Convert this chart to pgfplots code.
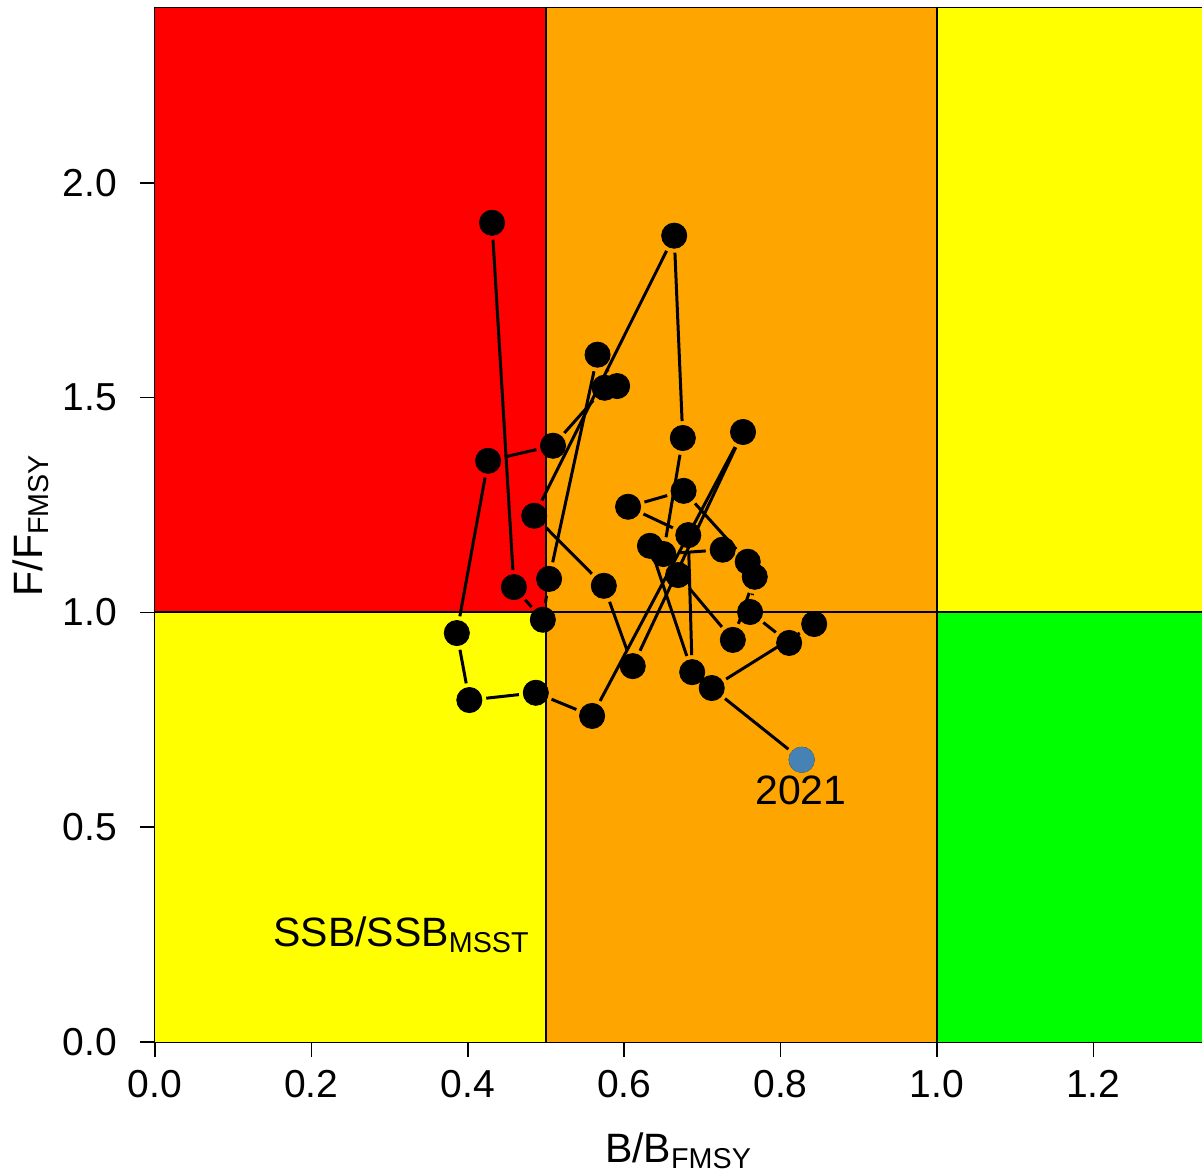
\documentclass[border=0pt]{standalone}
\usepackage{pgfplots}
\pgfplotsset{compat=1.18}
\usepackage{pgfplotstable}
\usepackage{fontspec}
\setmainfont{Liberation Sans}
\definecolor{rred}{HTML}{FF0000}
\definecolor{rorange}{HTML}{FFA500}
\definecolor{ryellow}{HTML}{FFFF00}
\definecolor{rgreen}{HTML}{00FF00}
\definecolor{steel}{HTML}{4682B4}
\pgfplotstableread{
x y
0.431 1.907
0.459 1.059
0.496 0.983
0.504 1.078
0.566 1.600
0.591 1.527
0.575 1.523
0.509 1.388
0.426 1.353
0.386 0.952
0.402 0.796
0.487 0.813
0.559 0.759
0.752 1.420
0.611 0.875
0.574 1.062
0.485 1.225
0.664 1.877
0.675 1.406
0.650 1.136
0.726 1.146
0.758 1.118
0.676 1.283
0.605 1.246
0.682 1.180
0.687 0.861
0.633 1.155
0.669 1.087
0.739 0.936
0.767 1.083
0.761 1.001
0.811 0.929
0.843 0.973
0.712 0.824
0.827 0.657
}\kobe
\begin{document}
\begin{tikzpicture}
\begin{axis}[
  scale only axis,
  width=523.5pt, height=517pt,
  xmin=0, xmax=1.339, ymin=0, ymax=2.407,
  axis line style={black, line width=0.8pt},
  xtick={0,0.2,...,1.21}, ytick={0,0.5,1,1.5,2},
  tick align=outside, major tick length=7.5pt,
  tick style={black, line width=0.8pt},
  xtick pos=bottom, ytick pos=left,
  /pgf/number format/.cd, fixed, fixed zerofill, precision=1, assume math mode=true,
  /pgfplots/.cd,
  ticklabel style={font=\fontsize{19.5}{22}\selectfont},
  xticklabel style={yshift=-3pt},
  yticklabel style={xshift=-8pt},
  xlabel={B/B\textsubscript{FMSY}},
  ylabel={F/F\textsubscript{FMSY}},
  label style={font=\fontsize{20.5}{24}\selectfont},
  xlabel style={at={(axis description cs:0.5,-0.105)}, anchor=center},
  ylabel style={at={(axis description cs:-0.119,0.5)}, anchor=center, rotate=0},
  clip=true,
]
\addplot[fill=rred, draw=none, forget plot] coordinates {(0,1) (0.5,1) (0.5,2.407) (0,2.407)} -- cycle;
\addplot[fill=ryellow, draw=none, forget plot] coordinates {(0,0) (0.5,0) (0.5,1) (0,1)} -- cycle;
\addplot[fill=rorange, draw=none, forget plot] coordinates {(0.5,0) (1,0) (1,2.407) (0.5,2.407)} -- cycle;
\addplot[fill=ryellow, draw=none, forget plot] coordinates {(1,1) (1.339,1) (1.339,2.407) (1,2.407)} -- cycle;
\addplot[fill=rgreen, draw=none, forget plot] coordinates {(1,0) (1.339,0) (1.339,1) (1,1)} -- cycle;
\addplot[black, line width=1pt, forget plot] coordinates {(0.5,0) (0.5,2.407)};
\addplot[black, line width=1pt, forget plot] coordinates {(1,0) (1,2.407)};
\addplot[black, line width=1pt, forget plot] coordinates {(0,1) (1.339,1)};
% segments with gaps round the points (R type="b")
\pgfplotsforeachungrouped \i in {0,...,33}{%
  \pgfmathtruncatemacro\j{\i+1}%
  \pgfplotstablegetelem{\i}{x}\of\kobe \let\xa\pgfplotsretval
  \pgfplotstablegetelem{\i}{y}\of\kobe \let\ya\pgfplotsretval
  \pgfplotstablegetelem{\j}{x}\of\kobe \let\xb\pgfplotsretval
  \pgfplotstablegetelem{\j}{y}\of\kobe \let\yb\pgfplotsretval
  \pgfmathsetmacro\dd{veclen((\xb-\xa)*391,(\yb-\ya)*214.8)}%
  \pgfmathparse{\dd>17.5?1:0}%
  \ifnum\pgfmathresult=1
    \edef\temp{\noexpand\addplot[black, line width=1.5pt, shorten >=8.5pt, shorten <=8.5pt, forget plot] coordinates {(\xa,\ya) (\xb,\yb)};}%
    \temp
  \fi
}
\addplot[only marks, black, mark=*, mark size=6.3pt, mark options={solid, fill=black, draw=black}] table[x=x,y=y] {\kobe};
\addplot[only marks, mark=*, mark size=6.3pt, mark options={fill=steel, draw=steel}] coordinates {(0.827,0.657)};
\node[font=\fontsize{20.5}{24}\selectfont, anchor=center] at (axis cs:0.826,0.585) {2021};
\node[font=\fontsize{20.5}{24}\selectfont, anchor=base west, inner sep=0pt] at (axis cs:0.151,0.222) {SSB/SSB\textsubscript{MSST}};
\coordinate (ll) at (rel axis cs:0,0);
\coordinate (ur) at (rel axis cs:1,1);
\end{axis}
\pgfresetboundingbox
\path ([xshift=-77.5pt,yshift=-66pt]ll) rectangle ([yshift=4pt]ur);
\end{tikzpicture}
\end{document}
